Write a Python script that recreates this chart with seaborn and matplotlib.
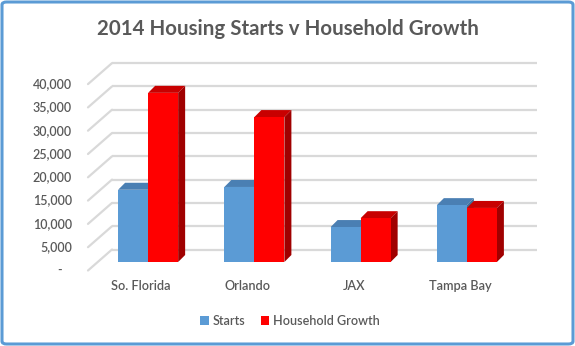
import numpy as np
import pandas as pd
import matplotlib
matplotlib.use("Agg")
import matplotlib.pyplot as plt
import matplotlib.transforms as mtransforms
from matplotlib.patches import Polygon, FancyBboxPatch, Patch
import seaborn as sns

# ---- data ----
categories = ["So. Florida", "Orlando", "JAX", "Tampa Bay"]
starts = [15500, 16100, 7500, 12200]
household_growth = [36300, 31100, 9400, 11600]
series_names = ["Starts", "Household Growth"]
yticks = [0, 5000, 10000, 15000, 20000, 25000, 30000, 35000, 40000]
ytick_labels = ["-   ", "5,000", "10,000", "15,000", "20,000", "25,000", "30,000", "35,000", "40,000"]
title = "2014 Housing Starts v Household Growth"

front_colors = ["#5B9BD5", "#FF0000"]
top_colors = ["#4A7FB3", "#C80000"]
side_colors = ["#41719C", "#A00000"]
text_color = "#595959"
grid_color = "#D9D9D9"

df = pd.DataFrame({
    "region": categories * 2,
    "value": starts + household_growth,
    "series": [series_names[0]] * 4 + [series_names[1]] * 4,
})

sns.set_theme(style="white")
plt.rcParams["font.family"] = ["Lato", "DejaVu Sans"]

W, H = 575, 346
dpi = 100
fig = plt.figure(figsize=(W / dpi, H / dpi), dpi=dpi)
fig.patch.set_facecolor("white")

# axes = front plane of the bars
ax_left, ax_right = 95, 520
ax_bottom_px = 262
ax_h = 186.4
ax = fig.add_axes([ax_left / W, (H - ax_bottom_px) / H, (ax_right - ax_left) / W, ax_h / H])
ax.set_facecolor("none")

sns.barplot(data=df, x="region", y="value", hue="series", order=categories,
            hue_order=series_names, palette=front_colors, saturation=1,
            width=0.565, linewidth=0, ax=ax, legend=False)
ax.set_xlim(-0.5, 3.5)
ax.set_ylim(0, 40000)
for s in ax.spines.values():
    s.set_visible(False)
ax.set_xticks([])
ax.set_yticks([])
ax.set_xlabel("")
ax.set_ylabel("")

def off(dx, dy):
    return mtransforms.ScaledTranslation(dx / dpi, dy / dpi, fig.dpi_scale_trans)

# back wall offsets (pixels): right and up; front label plane: left and down
bdx, bdy = 17, 12.5
fdx, fdy = -7, -8.5
ytr = ax.get_yaxis_transform()
for v in yticks:
    ax.plot([0, 1], [v, v], transform=ytr + off(bdx, bdy), color=grid_color, lw=1.6,
            zorder=0.5, clip_on=False, solid_capstyle="butt")
for v in yticks:
    p_front = (ytr + off(fdx, fdy)).transform((0, v))
    p_back = (ytr + off(bdx, bdy)).transform((0, v))
    ax.add_line(plt.Line2D([p_front[0], p_back[0]], [p_front[1], p_back[1]],
                           transform=None, color=grid_color, lw=1.6, zorder=0.5, clip_on=False))

# y tick labels on the front plane
for v, lab in zip(yticks, ytick_labels):
    ax.text(0, v, lab, transform=ytr + off(-23, fdy), ha="right", va="center",
            fontsize=9, fontweight="semibold", color=text_color, clip_on=False)

# category labels on the front plane
for i, c in enumerate(categories):
    ax.text(i, 0, c, transform=ax.transData + off(-7, -24), ha="center", va="center",
            fontsize=9.2, fontweight="semibold", color=text_color, clip_on=False)

# 3D faces derived from the bars seaborn drew
fig.canvas.draw()
bars = [p for p in ax.patches if p.get_height() > 0 and p.get_width() > 0]
inv = ax.transData.inverted()
o = ax.transData.transform((0, 0))
dd = inv.transform((o[0] + 7, o[1] + 7))
ddx, ddy = dd[0], dd[1]
for idx, p in enumerate(bars):
    k = 0 if idx < len(categories) else 1
    x0, w, h = p.get_x(), p.get_width(), p.get_height()
    base = 1.1 + 0.2 * k
    top = Polygon([(x0, h), (x0 + w, h), (x0 + w + ddx, h + ddy), (x0 + ddx, h + ddy)],
                  closed=True, facecolor=top_colors[k], edgecolor="none", zorder=base)
    side = Polygon([(x0 + w, 0), (x0 + w, h), (x0 + w + ddx, h + ddy), (x0 + w + ddx, ddy)],
                   closed=True, facecolor=side_colors[k], edgecolor="none", zorder=base)
    ax.add_patch(top)
    ax.add_patch(side)
    p.set_zorder(base + 0.1)

# title
fig.text(287.5 / W, 1 - 29 / H, title, ha="center", va="center", fontsize=14.8,
         fontweight="bold", color=text_color)

# legend
handles = [Patch(facecolor=front_colors[i], edgecolor="none", label=series_names[i]) for i in range(2)]
leg = fig.legend(handles=handles, loc="center", bbox_to_anchor=(290 / W, 1 - 321 / H),
                 ncol=2, frameon=False, fontsize=9, handlelength=0.7, handleheight=0.7,
                 handletextpad=0.3, columnspacing=1.2, prop={"size": 9, "weight": "semibold"})
for t in leg.get_texts():
    t.set_color(text_color)

# outer frame
frame = FancyBboxPatch((2 / W, 2 / H), 1 - 4 / W, 1 - 4 / H, boxstyle="round,pad=0,rounding_size=0.008",
                       transform=fig.transFigure, facecolor="none", edgecolor="#5B9BD5",
                       linewidth=2.2, zorder=10)
fig.patches.append(frame)

fig.savefig("out.png", dpi=dpi, facecolor="white")
